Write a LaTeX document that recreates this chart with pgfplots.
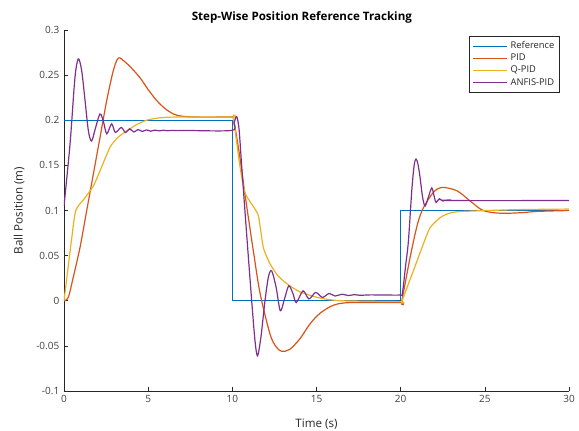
\documentclass[border=0pt]{standalone}
\usepackage{pgfplots}
\pgfplotsset{compat=1.18}
\usepackage{fontspec}
\setmainfont{Open Sans}
\definecolor{mblue}{HTML}{0072BD}
\definecolor{morange}{HTML}{D95319}
\definecolor{myellow}{HTML}{EDB120}
\definecolor{mpurple}{HTML}{7E2F8E}
\definecolor{axgray}{HTML}{262626}
\definecolor{lblgray}{HTML}{404040}
\begin{document}
\begin{tikzpicture}
\begin{axis}[
    at={(0,0)}, anchor=south west,
    scale only axis,
    width=378.75pt, height=270.75pt,
    xmin=0, xmax=30, ymin=-0.1, ymax=0.3,
    xtick={0,5,10,15,20,25,30},
    ytick={-0.1,-0.05,0,0.05,0.1,0.15,0.2,0.25,0.3},
    axis x line=bottom, axis y line=left,
    axis line style={-, axgray, line width=0.6pt},
    tick align=inside, tick style={axgray, line width=0.5pt},
    major tick length=3pt,
    tick label style={font=\fontsize{7.5}{9}\selectfont, text=lblgray},
    /pgf/number format/assume math mode=true,
    /pgf/number format/fixed,
    /pgf/number format/precision=2,
    xlabel={Time (s)}, ylabel={Ball Position (m)},
    label style={font=\fontsize{8.7}{10}\selectfont, text=axgray},
    xlabel style={yshift=-5pt},
    ylabel style={yshift=2pt},
    title={\textbf{Step-Wise Position Reference Tracking}},
    title style={font=\fontsize{8.7}{10}\selectfont, text=black, at={(0.471,1.012)}, anchor=south, yshift=-8pt},
    legend style={at={(0.982,0.983)}, anchor=north east, draw=axgray, line width=0.4pt,
        font=\fontsize{7}{8.5}\selectfont, text=axgray, row sep=-1.5pt, inner sep=2pt},
    legend cell align=left,
    legend image code/.code={\draw[#1, line width=0.9pt] (0pt,0pt) -- (26pt,0pt);},
    every axis plot/.append style={line width=0.9pt},
]
\addplot[mblue] coordinates {
    (0,0.2) (10,0.2) (10,0) (20,0) (20,0.1) (30,0.1)
};
\addlegendentry{Reference}

\addplot[morange, smooth, tension=0.5] coordinates {
    (0,0) (0.26,0.004) (0.55,0.026) (0.95,0.059) (1.35,0.1) (1.74,0.14) (2.14,0.181)
    (2.54,0.222) (2.93,0.255) (3.23,0.269) (3.6,0.265) (4.0,0.258) (4.52,0.247)
    (5.0,0.234) (5.5,0.222) (6.0,0.213) (6.5,0.207) (7.0,0.2045) (8,0.2035) (10,0.2035)
    (10.06,0.2025) (10.4,0.165) (10.75,0.118) (11.25,0.055) (11.65,0.008)
    (12.24,-0.037) (12.6,-0.051) (12.93,-0.056) (13.4,-0.054) (14.02,-0.042)
    (14.6,-0.026) (15.2,-0.014) (16,-0.005) (17,-0.002) (20,-0.002)
    (20.06,-0.001) (20.56,0.048) (21.0,0.085) (21.35,0.103) (21.94,0.12)
    (22.44,0.1256) (23.33,0.122) (24.1,0.111) (24.9,0.1) (25.9,0.097)
    (27.1,0.0975) (28.1,0.099) (30,0.1)
};
\addlegendentry{PID}

\addplot[myellow, smooth, tension=0.4] coordinates {
    (0,0) (0.2,0.03) (0.45,0.068) (0.7,0.1) (1.2,0.113) (1.74,0.127) (2.14,0.144)
    (2.73,0.17) (3.2,0.181) (3.72,0.188) (4.3,0.195) (4.9,0.2) (5.6,0.2025)
    (6.5,0.2035) (10,0.2035) (10.06,0.203) (10.46,0.148) (10.75,0.12)
    (11.15,0.107) (11.55,0.094) (11.84,0.059) (12.24,0.041) (12.7,0.028)
    (13.23,0.019) (14.0,0.01) (15.2,0.003) (16.5,0.0) (20,-0.001)
    (20.06,-0.001) (20.75,0.033) (21.35,0.063) (21.75,0.081) (22.34,0.092)
    (22.74,0.096) (23.33,0.0986) (24.7,0.0997) (27,0.101) (30,0.1016)
};
\addlegendentry{Q-PID}

\addplot[mpurple, smooth, tension=0.5] coordinates {
    (0,0.105) (0.36,0.174) (0.65,0.247) (0.85,0.268) (1.05,0.255) (1.25,0.222)
    (1.45,0.188) (1.64,0.177) (1.85,0.19) (2.14,0.207) (2.35,0.198) (2.54,0.185)
    (2.83,0.196) (3.05,0.1865) (3.4,0.192) (3.65,0.1865) (3.9,0.1905) (4.15,0.187)
    (4.4,0.1897) (4.65,0.1876) (4.9,0.1893) (5.15,0.1879) (5.4,0.1891) (5.65,0.1882)
    (5.9,0.1889) (6.15,0.1884) (6.45,0.1888) (6.75,0.1885) (7.2,0.1887) (9.95,0.1887)
    (10.1,0.197) (10.26,0.204) (10.4,0.19) (10.56,0.148) (10.85,0.074) (11.15,0.0)
    (11.35,-0.045) (11.5,-0.061) (11.7,-0.04) (11.94,0.0) (12.15,0.027) (12.34,0.033)
    (12.6,0.015) (12.85,-0.011) (13.1,0.002) (13.35,0.0166) (13.6,0.008)
    (13.8,-0.002) (14.2,0.011) (14.55,0.002) (14.95,0.0092) (15.35,0.0037)
    (15.75,0.0081) (16.1,0.0052) (16.5,0.0072) (16.9,0.0058) (17.25,0.0068)
    (17.6,0.006) (18.2,0.0065) (19.95,0.0063)
    (20.1,0.008) (20.3,0.04) (20.46,0.066) (20.66,0.122) (20.8,0.15) (20.91,0.157)
    (21.02,0.152) (21.15,0.137) (21.3,0.115) (21.45,0.105) (21.65,0.115) (21.85,0.125)
    (22.0,0.115) (22.1,0.109) (22.3,0.113) (22.5,0.1105) (22.7,0.1115) (23,0.111)
    (30,0.111)
};
\addlegendentry{ANFIS-PID}
\end{axis}
\pgfresetboundingbox
\path (-48pt,-29.25pt) rectangle (386.25pt,293.25pt);
\end{tikzpicture}
\end{document}
